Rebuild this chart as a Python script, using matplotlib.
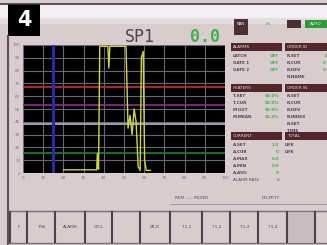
import matplotlib
matplotlib.use('Agg')
import matplotlib.pyplot as plt
from matplotlib.patches import Rectangle

# trend trace (x in %, y in %)
trace_x = [20, 36.5, 36.8, 37.4, 38.0, 42.0, 42.5, 43.0, 51.0, 52.0, 53.0, 54.0,
           55.0, 56.0, 57.0, 58.0, 58.6, 59.5, 60.2, 61.0, 63.0]
trace_y = [2.5, 2.5, 15, 3, 99, 99, 82, 99, 99, 35, 45, 30,
           50, 40, 5, 2, 90, 95, 10, 2, 2]

limit_levels = [67.5, 53, 38, 15.6]
limit_colors = ['#c02828', '#862a86', '#a8a8bc', '#1f7a2a']
marker_x = 15

x_ticks = [0, 10, 20, 30, 40, 50, 60, 70, 80, 90, 100]
y_ticks = [0, 10, 20, 30, 40, 50, 60, 70, 80, 90, 100]

panel_titles = ['ALARMS', 'ORDER ID', 'HEATERS', 'ORDER IN', 'CURRENT', 'TOTAL']
panel1_rows = [('LATCH', 'OFF'), ('GATE 1', 'OFF'), ('GATE 2', 'OFF')]
panel2_rows = [('R.SET', '1'), ('R.CUR', '0'), ('R.DEV', '0'), ('R.NAME', '')]
panel3_rows = [('T.SET', '50.0%'), ('T.CUR', '50.0%'), ('M.OUT', '50.0%'), ('M.MEAN', '50.0%')]
panel4_rows = [('R.SET', ''), ('R.CUR', ''), ('R.DEV', ''), ('R.INDEX', ''), ('R.SET', ''), ('TIME', '')]
panel5_rows = [('A.SET', '1.5'), ('A.CUR', '0'), ('A.MAX', '0.0'), ('A.MIN', '0.0'), ('A.AVG', '0')]
panel6_rows = ['LIFE', 'LIFE']
buttons = ['F', 'T.SE', 'ALARM', 'CYCL', '', 'ZR.D', 'T 1-1', 'T 1-2', 'T 1-3', 'T 1-4', '', '']
button_edges = [10, 27, 55, 85, 112, 140, 170, 202, 230, 258, 287, 315, 327]

BG = '#d9cccf'
GRN = '#3cb44a'
TXT = '#4e464c'
HDR = '#52262a'

fig = plt.figure(figsize=(3.27, 2.45), dpi=100)
fig.patch.set_facecolor(BG)

bg = fig.add_axes([0, 0, 1, 1])
bg.set_xlim(0, 327)
bg.set_ylim(245, 0)
bg.axis('off')

# top strip
bg.add_patch(Rectangle((0, 4), 327, 14, color='#f3eff2', lw=0))
bg.add_patch(Rectangle((0, 18), 327, 6, color='#e6dde0', lw=0))
bg.plot([0, 327], [4, 4], color='#3a3a3a', lw=1.2)
bg.plot([8, 8], [36, 245], color='#5a5258', lw=1.5)

# number badge
bg.add_patch(Rectangle((8, 4), 32, 32, color='black', lw=0))
bg.text(24, 20, '4', color='white', fontsize=15, fontweight='bold',
        ha='center', va='center')

bg.text(140, 37, 'SP1', family='DejaVu Sans Mono', fontsize=12, color=TXT,
        ha='center', va='center')
bg.text(205, 37, '0.0', family='DejaVu Sans Mono', fontsize=12, color=GRN,
        fontweight='bold', ha='center', va='center')

# right panel top boxes
bg.add_patch(Rectangle((234, 19), 14, 16, color='#4a3035', lw=0))
bg.text(241, 24, 'MAN', fontsize=2.5, color='white', ha='center', va='center')
bg.text(268, 24, 'ON', fontsize=3, color=GRN, ha='center', va='center')
bg.add_patch(Rectangle((287, 20), 14, 8, color='#4a3035', lw=0))
bg.add_patch(Rectangle((305, 20), 22, 8, color='#2f9a3a', lw=0))
bg.text(316, 24, 'AUTO', fontsize=3, color='white', ha='center', va='center')


def header(x0, x1, y, title):
    bg.add_patch(Rectangle((x0, y), x1 - x0, 8, color=HDR, lw=0))
    bg.text(x0 + 2, y + 4, title, fontsize=3, color='#e8dcdc', va='center')


def rows(x_lab, x_val, y0, items, step=7):
    for i, (lab, val) in enumerate(items):
        bg.text(x_lab, y0 + i * step, lab, fontsize=3, color=TXT, va='center',
                fontweight='bold')
        bg.text(x_val, y0 + i * step, val, fontsize=3, color=GRN, va='center',
                ha='right', fontweight='bold')


header(231, 282, 43, panel_titles[0])
header(285, 327, 43, panel_titles[1])
rows(233, 279, 56, panel1_rows)
rows(287, 326, 56, panel2_rows)
header(231, 282, 84, panel_titles[2])
header(285, 327, 84, panel_titles[3])
rows(233, 279, 96, panel3_rows)
rows(287, 326, 96, panel4_rows)
header(231, 282, 132, panel_titles[4])
header(285, 327, 132, panel_titles[5])
rows(233, 279, 145, panel5_rows)
for i, lab in enumerate(panel6_rows):
    bg.text(285, 145 + i * 7, lab, fontsize=3, color=TXT, va='center',
            fontweight='bold')
bg.text(233, 180, 'ALARM RATE', fontsize=3, color=TXT, va='center')
bg.text(279, 180, '0', fontsize=3, color=TXT, va='center', ha='right')

# status line
bg.plot([170, 327], [204, 204], color='#a89ca2', lw=0.8)
bg.text(175, 198, 'REM ----- REDER', fontsize=3, color=TXT, va='center')
bg.text(262, 198, 'DD.PP.YY', fontsize=3, color=TXT, va='center')

# soft key row
bg.plot([8, 327], [211, 211], color='#7a6e74', lw=1)
bg.plot([8, 327], [243, 243], color='#7a6e74', lw=1)
for i, lab in enumerate(buttons):
    x0, x1 = button_edges[i], button_edges[i + 1]
    bg.plot([x0, x0], [212, 242], color='#4a4248', lw=1.5)
    bg.text((x0 + x1) / 2, 227, lab, fontsize=3, color=TXT,
            ha='center', va='center')
bg.add_patch(Rectangle((287, 213), 27, 29, color='#c7bcc0', lw=0))

# trend chart
ax = fig.add_axes([23 / 327, 1 - 173 / 245, 202 / 327, 128 / 245])
ax.set_facecolor('black')
ax.set_xlim(0, 100)
ax.set_ylim(0, 100)
ax.set_xticks(x_ticks)
ax.set_yticks(y_ticks)
ax.grid(True, color='#686874', lw=0.8)
ax.tick_params(labelsize=3, colors='#7a7078', length=0, pad=2)
for s in ax.spines.values():
    s.set_visible(False)
for lvl, c in zip(limit_levels, limit_colors):
    ax.axhline(lvl, color=c, lw=1.3)
ax.axvline(marker_x, color='#2a2aa0', lw=2.2)
ax.plot(trace_x, trace_y, color='#cfd54a', lw=1.0)

fig.savefig('out.png', dpi=100, facecolor=BG)
